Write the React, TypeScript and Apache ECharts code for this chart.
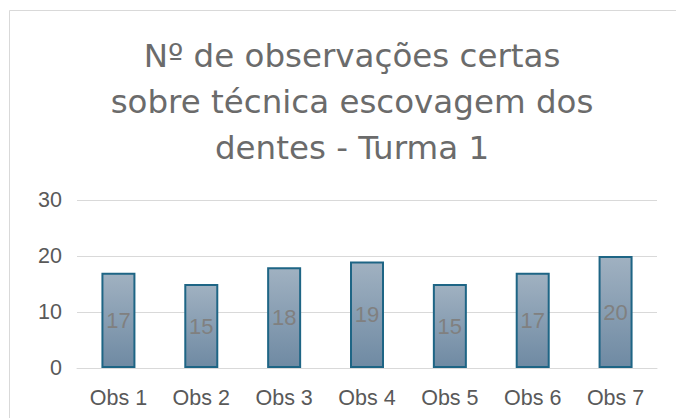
import React, { useEffect, useRef } from "react";
import * as echarts from "echarts";

const categories = ["Obs 1", "Obs 2", "Obs 3", "Obs 4", "Obs 5", "Obs 6", "Obs 7"];
const values = [17, 15, 18, 19, 15, 17, 20];
const titleText = "Nº de observações certas\nsobre técnica escovagem dos\ndentes - Turma 1";

const TITLE_FONT = "DejaVu Sans";
const FONT = "Liberation Sans";

export default function App() {
  const ref = useRef<HTMLDivElement>(null);
  useEffect(() => {
    if (!ref.current) return;
    const chart = echarts.init(ref.current, undefined, { renderer: "svg" });
    chart.setOption({
      animation: false,
      backgroundColor: "#ffffff",
      graphic: [
        {
          type: "rect",
          shape: { x: 9.5, y: 10.5, width: 720, height: 460 },
          style: { fill: "none", stroke: "#d9d9d9", lineWidth: 1 },
          silent: true,
        },
      ],
      title: {
        text: titleText,
        left: 347,
        top: 28,
        textAlign: "center",
        textStyle: {
          fontFamily: TITLE_FONT,
          fontSize: 32.5,
          fontWeight: "normal",
          color: "#6b6b6b",
          lineHeight: 46,
        },
      },
      grid: { left: 77, right: 19, top: 200, bottom: 50 },
      xAxis: {
        type: "category",
        data: categories,
        axisLine: { show: true, lineStyle: { color: "#d9d9d9", width: 1 } },
        axisTick: { show: false },
        axisLabel: { fontFamily: FONT, fontSize: 21.5, color: "#595959", margin: 19 },
      },
      yAxis: {
        type: "value",
        min: 0,
        max: 30,
        interval: 10,
        axisLine: { show: false },
        axisTick: { show: false },
        splitLine: { lineStyle: { color: "#d9d9d9", width: 1 } },
        axisLabel: { fontFamily: FONT, fontSize: 21.5, color: "#595959", margin: 15 },
      },
      series: [
        {
          type: "bar",
          data: values,
          barWidth: 34,
          itemStyle: {
            color: new echarts.graphic.LinearGradient(0, 0, 0, 1, [
              { offset: 0, color: "#a0b1c1" },
              { offset: 1, color: "#6f8aa3" },
            ]),
            borderColor: "#1e6585",
            borderWidth: 2,
          },
          label: {
            show: true,
            position: "inside",
            fontFamily: FONT,
            fontSize: 22,
            color: "#808080",
          },
        },
      ],
    });
    return () => chart.dispose();
  }, []);
  return (
    <div style={{ position: "fixed", left: 0, top: 0, width: 676, height: 418 }}>
      <div ref={ref} style={{ width: 676, height: 418 }} />
    </div>
  );
}
